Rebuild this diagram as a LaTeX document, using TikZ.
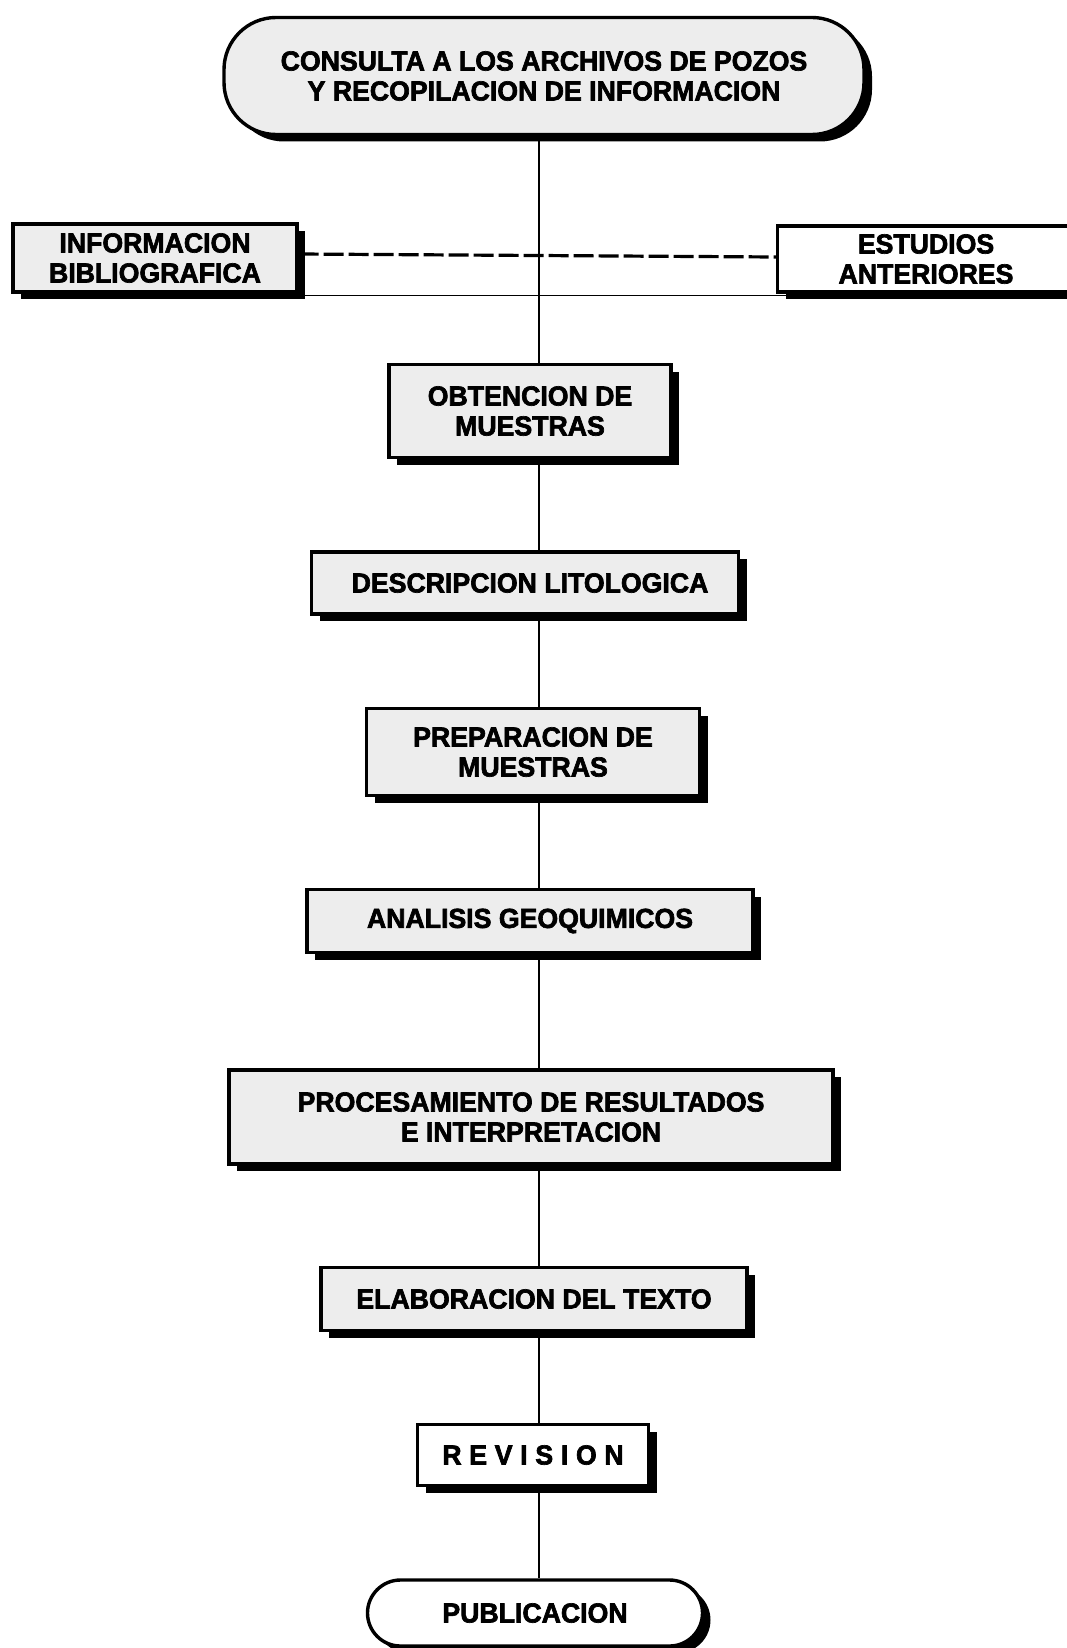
\documentclass[tikz,border=0pt]{standalone}
\usepackage{fontspec}
\setmainfont{Liberation Sans}[BoldFeatures={FakeBold=2.4, FakeStretch=0.97}]
\usetikzlibrary{shadows}
\begin{document}
\begin{tikzpicture}[x=1pt,y=-1pt,
  every node/.style={font=\fontsize{27.5}{30}\selectfont\bfseries, align=center, inner sep=0pt},
  stepbox/.style={draw=black, line width=3.4pt, fill=black!7, rectangle,
    drop shadow={shadow xshift=8pt, shadow yshift=-7pt, fill=black, opacity=1}},
  plainbox/.style={stepbox, fill=white},
  termbox/.style={stepbox, rounded corners=52pt},
  link/.style={line width=2.8pt},
  dashlink/.style={line width=3.2pt, dash pattern=on 20pt off 5pt}]
\useasboundingbox (0,0) rectangle (1067,1648);
\fill[white] (0,0) rectangle (1067,1648);

% opening terminal
\node[termbox, minimum width=640pt, minimum height=117pt] (top) at (544,76)
  {CONSULTA A LOS ARCHIVOS DE POZOS\\Y RECOPILACION DE INFORMACION};

% side sources
\node[stepbox, minimum width=284pt, minimum height=68pt] (info) at (155,258)
  {INFORMACION\\BIBLIOGRAFICA};
\node[plainbox, minimum width=297pt, minimum height=66pt] (est) at (926,259)
  {ESTUDIOS\\ANTERIORES};

% process steps
\node[stepbox, minimum width=282pt, minimum height=93pt] (obt) at (530,411)
  {OBTENCION DE\\MUESTRAS};
\node[stepbox, minimum width=427pt, minimum height=62pt] (desc) at (525,583)
  {\hspace*{10pt}DESCRIPCION LITOLOGICA};
\node[stepbox, minimum width=333pt, minimum height=87pt] (prep) at (533,752)
  {PREPARACION DE\\MUESTRAS};
\node[stepbox, minimum width=446pt, minimum height=63pt] (anal) at (530,921)
  {ANALISIS GEOQUIMICOS};
\node[stepbox, minimum width=604pt, minimum height=94pt] (proc) at (531,1117)
  {PROCESAMIENTO DE RESULTADOS\\E INTERPRETACION};
\node[stepbox, minimum width=426pt, minimum height=63pt] (elab) at (534,1299)
  {ELABORACION DEL TEXTO};
\node[plainbox, minimum width=231pt, minimum height=61pt] (rev) at (533,1455)
  {\addfontfeature{LetterSpace=28}REVISION};
\node[plainbox, rounded corners=33pt, minimum width=335pt, minimum height=66pt] (pub) at (535,1613)
  {PUBLICACION};

% spine
\coordinate (spine) at (539,0);
\draw[link] (top.south -| spine) -- (obt.north -| spine);
\draw[link] (obt.south -| spine) -- (desc.north -| spine);
\draw[link] (desc.south -| spine) -- (prep.north -| spine);
\draw[link] (prep.south -| spine) -- (anal.north -| spine);
\draw[link] (anal.south -| spine) -- (proc.north -| spine);
\draw[link] (proc.south -| spine) -- (elab.north -| spine);
\draw[link] (elab.south -| spine) -- (rev.north -| spine);
\draw[link] (rev.south -| spine) -- (pub.north -| spine);

% side sources joined to the spine
\draw[dashlink] ([yshift=4pt]info.east) -- ([yshift=2pt]est.west);
\draw[line width=1.4pt] ([xshift=30pt,yshift=-2pt]info.south west) -- ([yshift=-2pt]info.south west -| est.east);
\end{tikzpicture}
\end{document}
